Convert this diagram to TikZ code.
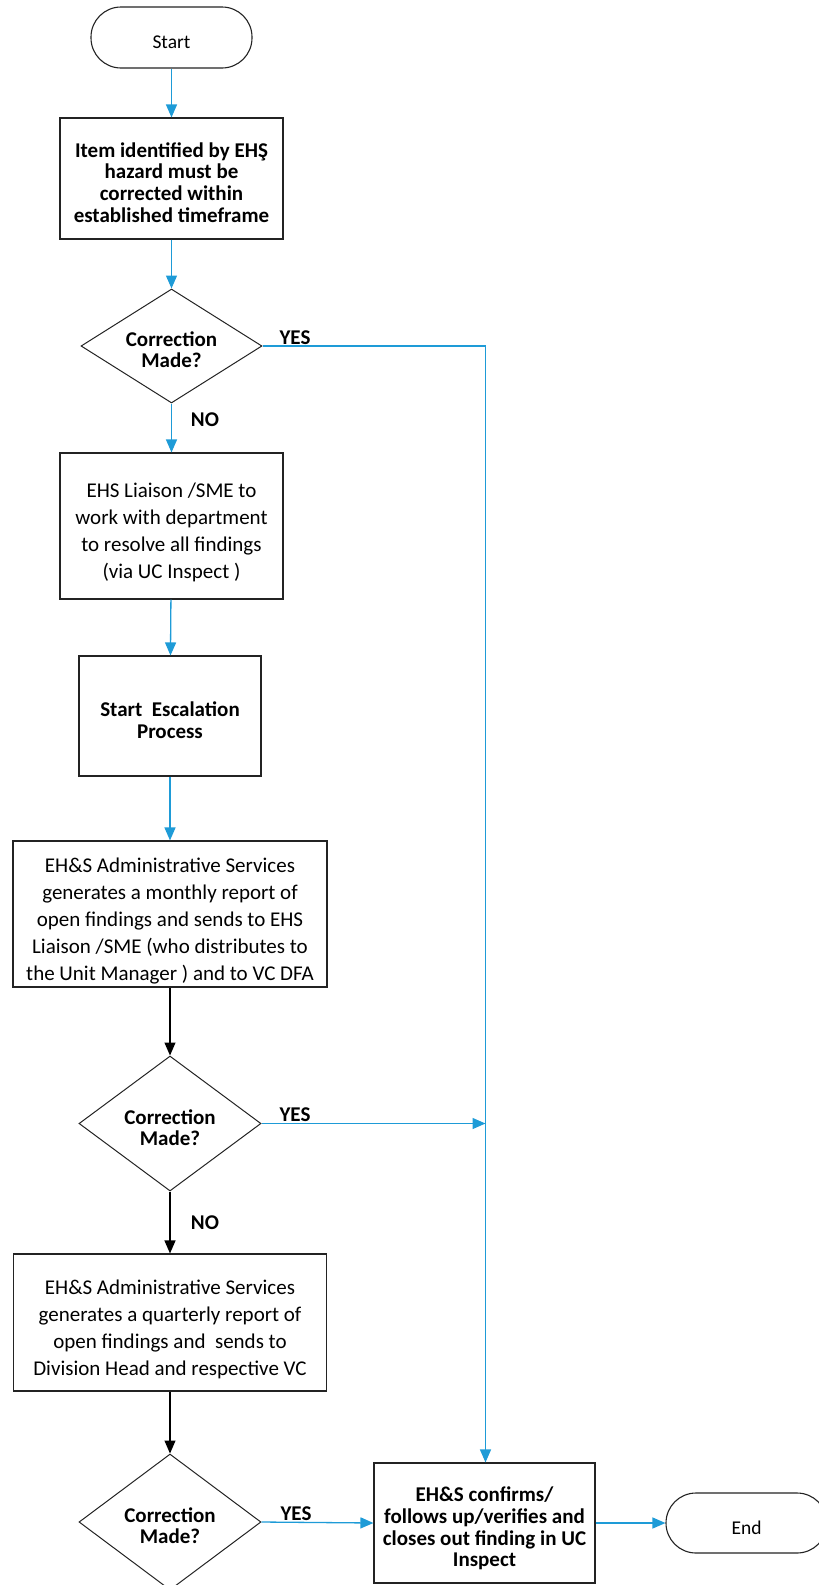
\documentclass[tikz,border=0pt]{standalone}
\usepackage{fontspec}
\setmainfont{Carlito}
\usetikzlibrary{shapes.geometric,arrows.meta}
\definecolor{flowblue}{RGB}{30,155,215}
\definecolor{edgegray}{RGB}{35,35,35}
\newcommand{\ctext}[1]{\raisebox{-12pt}[0pt][0pt]{\begin{tabular}{@{}c@{}}#1\end{tabular}}}
\tikzset{
  term/.style={draw=edgegray, line width=1.1pt, rounded corners=30pt, minimum width=161pt, minimum height=61pt, inner sep=0pt, font=\fontsize{19.5}{23}\selectfont},
  procbox/.style={draw=edgegray, line width=1.1pt, inner sep=0pt},
  regtext/.style={font=\fontsize{21}{27}\selectfont},
  boldtext/.style={font=\fontsize{21}{21.7}\selectfont\bfseries},
  decision/.style={draw=edgegray, line width=1pt, diamond, inner sep=0pt, font=\fontsize{21}{21}\selectfont\bfseries},
  bluearr/.style={draw=flowblue, line width=1.3pt, -{Triangle[length=13pt,width=11pt]}},
  blueline/.style={draw=flowblue, line width=1.3pt},
  blackarr/.style={draw=black, line width=1.2pt, -{Triangle[length=13pt,width=11pt]}},
  lbl/.style={font=\fontsize{21}{21}\selectfont\bfseries, inner sep=0pt}
}
\begin{document}
\begin{tikzpicture}[x=1pt,y=-1pt]
\useasboundingbox (0,0) rectangle (819,1585);
\begin{scope}
\clip (0,0) rectangle (819,1585);
\node[term] (start) at (171.5,37.5) {\ctext{Start}};
\node[procbox, boldtext, minimum width=223pt, minimum height=121pt] (box1) at (171.5,178.5) {\ctext{Item identified by EHŞ\\hazard must be\\corrected within\\established timeframe}};
\node[decision, minimum width=181pt, minimum height=114pt] (d1) at (171.5,346) {\ctext{Correction\\Made?}};
\node[procbox, regtext, minimum width=223pt, minimum height=146pt] (box2) at (171.5,526) {\ctext{EHS Liaison /SME to\\work with department\\to resolve all findings\\(via UC Inspect )}};
\node[procbox, boldtext, minimum width=182pt, minimum height=120pt] (box3) at (170,716) {\ctext{Start~~Escalation\\Process}};
\node[procbox, regtext, minimum width=314pt, minimum height=146pt] (box4) at (170,914) {\ctext{EH\&S Administrative Services\\generates a monthly report of\\open findings and sends to EHS\\Liaison /SME (who distributes to\\the Unit Manager ) and to VC DFA}};
\node[decision, minimum width=182pt, minimum height=135pt] (d2) at (170,1123.5) {\ctext{Correction\\Made?}};
\node[procbox, regtext, minimum width=313pt, minimum height=137pt] (box5) at (170,1322.5) {\ctext{EH\&S Administrative Services\\generates a quarterly report of\\open findings and~~sends to\\Division Head and respective VC}};
\node[decision, minimum width=182pt, minimum height=136pt] (d3) at (170,1522) {\ctext{Correction\\Made?}};
\node[procbox, boldtext, minimum width=221pt, minimum height=120pt] (final) at (484.5,1523) {\ctext{EH\&S confirms/\\follows up/verifies and\\closes out finding in UC\\Inspect}};
\node[term, minimum height=60pt] (end) at (746.5,1523) {\ctext{End}};
\end{scope}
\coordinate (j1) at (485.5,346);
\coordinate (j2) at (485.5,1123.5);
\draw[bluearr] (start) -- (box1);
\draw[bluearr] (box1) -- (d1);
\draw[blueline] (d1.east) -- (j1);
\draw[bluearr] (j1) -- (final.north -| j1);
\draw[bluearr] (d1) -- (box2);
\draw[bluearr] (box2) -- (box3);
\draw[bluearr] (box3) -- (box4);
\draw[blackarr] (box4) -- (d2);
\draw[bluearr] (d2.east) -- (j2);
\draw[blackarr] (d2) -- (box5);
\draw[blackarr] (box5) -- (d3);
\draw[bluearr] (d3.east) -- (final.west);
\draw[bluearr] (final) -- (end);
\node[lbl] (yes1) at (295,338) {YES};
\node[lbl] (no1) at (205,420) {NO};
\node[lbl] (yes2) at (295,1115) {YES};
\node[lbl] (no2) at (205,1223) {NO};
\node[lbl] (yes3) at (296,1514) {YES};
\end{tikzpicture}
\end{document}
